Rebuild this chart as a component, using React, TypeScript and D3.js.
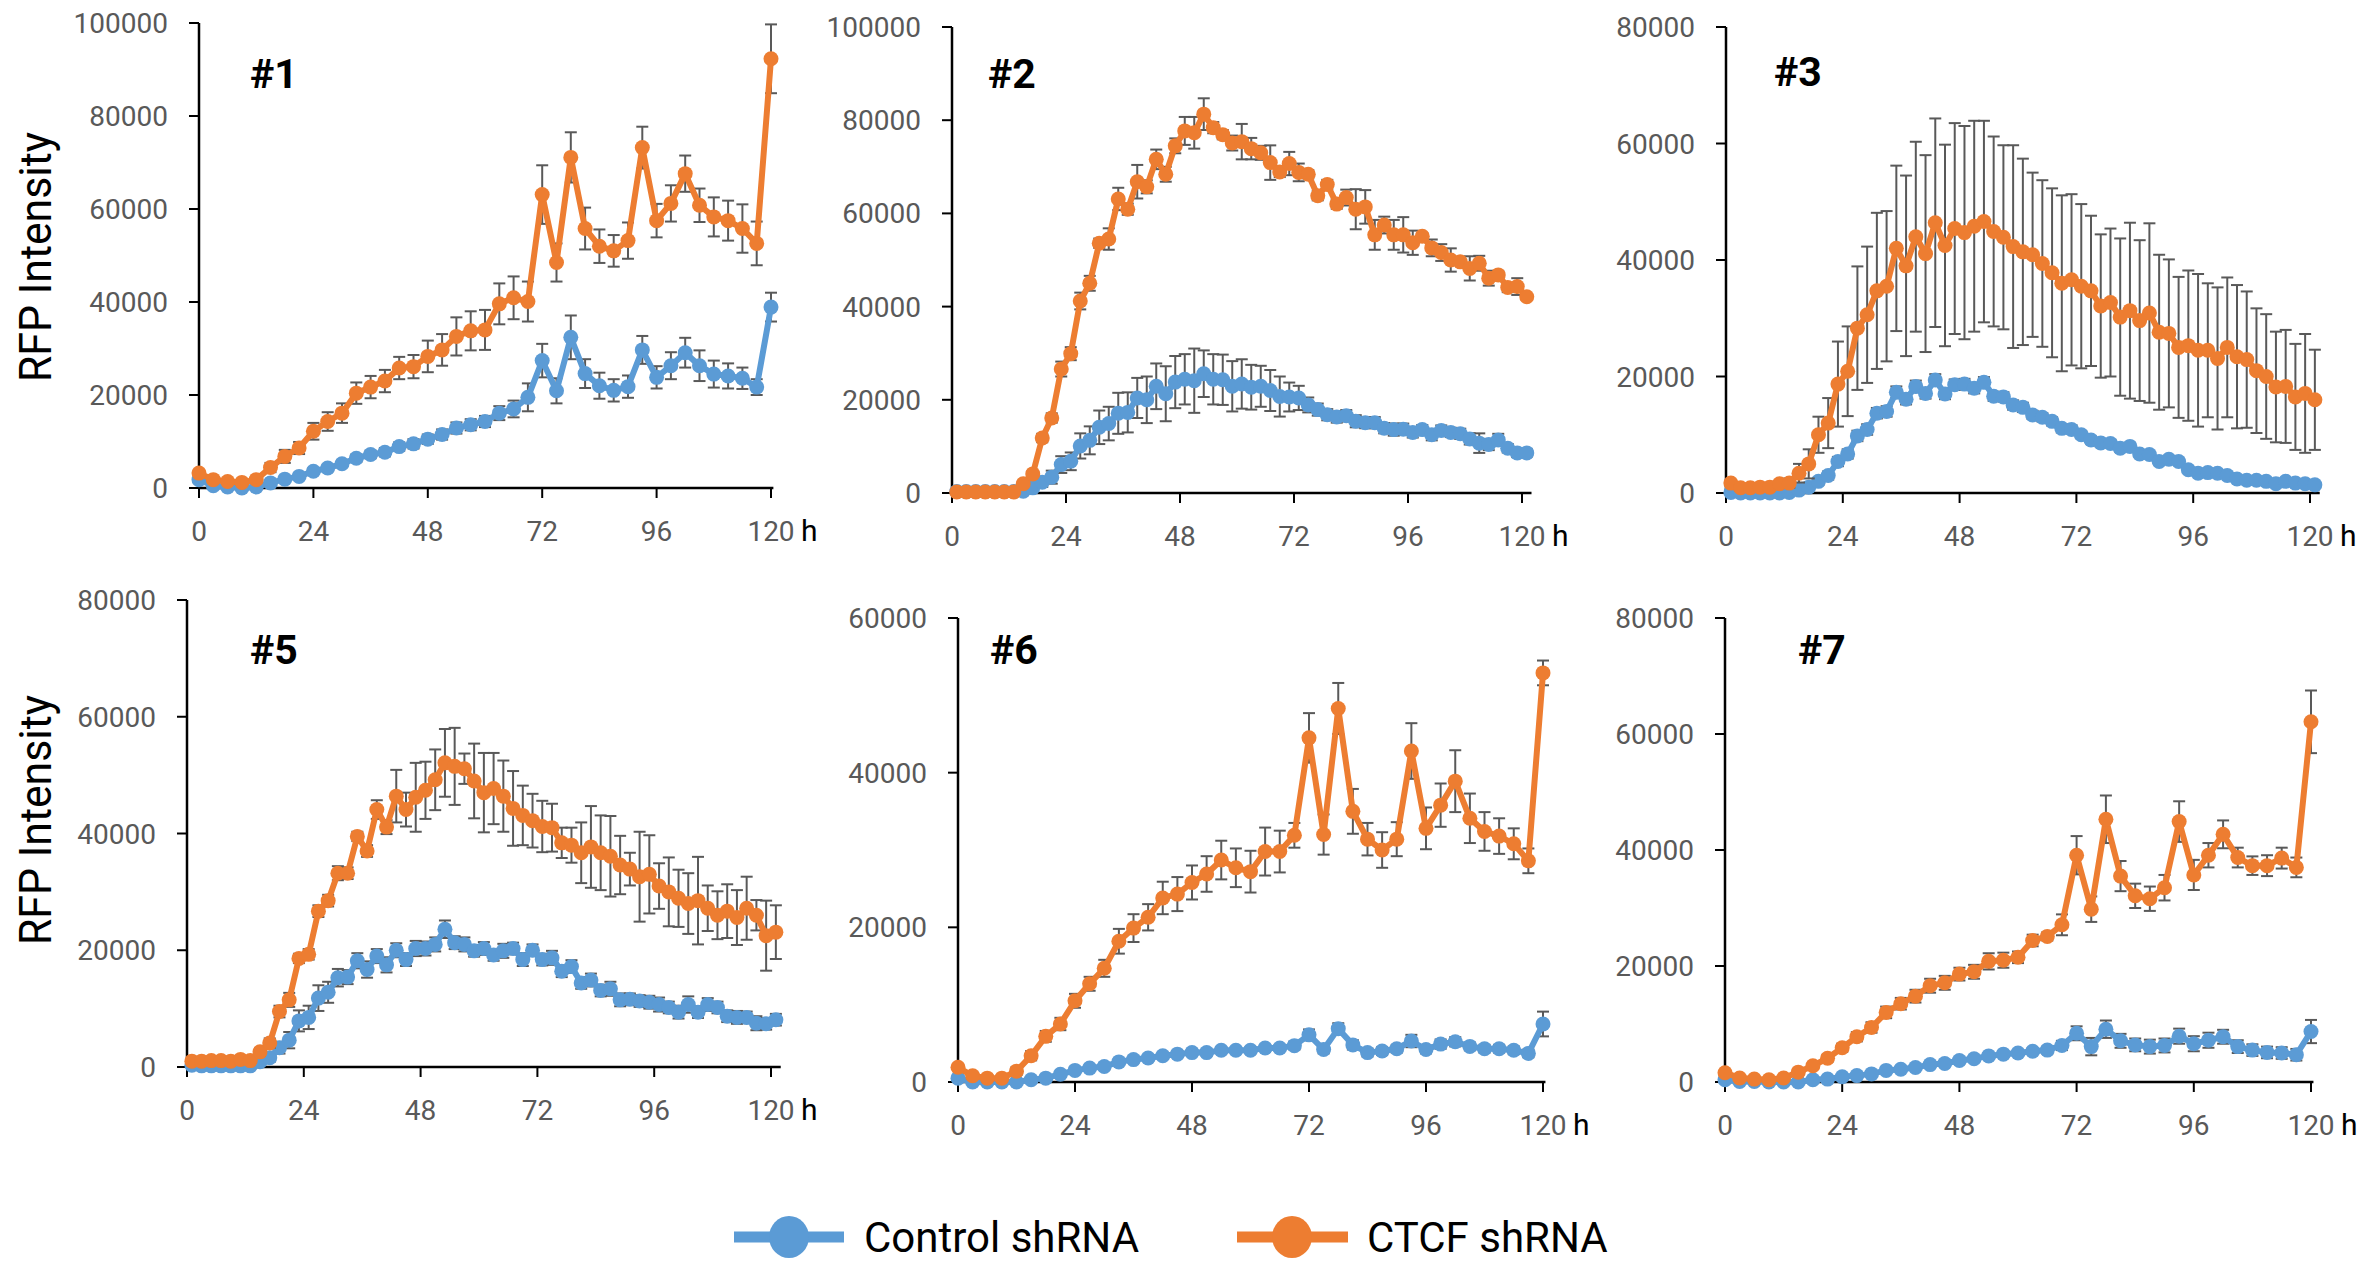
import * as d3 from 'd3';

// ── Canvas ────────────────────────────────────────────────────────────────────
const W = 2363;
const H = 1261;

// ── Colors / fonts ────────────────────────────────────────────────────────────
const BLUE   = '#5B9BD5';
const ORANGE = '#ED7D31';
const ERR    = '#595959';
const GREY   = '#595959';
const FONT   = 'Roboto, "Liberation Sans", sans-serif';

// ── Data ──────────────────────────────────────────────────────────────────────
const HOURS_3 = [0, 3, 6, 9, 12, 15, 18, 21, 24, 27, 30, 33, 36, 39, 42, 45, 48, 51, 54, 57, 60,
  63, 66, 69, 72, 75, 78, 81, 84, 87, 90, 93, 96, 99, 102, 105, 108, 111, 114, 117, 120];
const HOURS_2 = [1, 3, 5, 7, 9, 11, 13, 15, 17, 19, 21, 23, 25, 27, 29, 31, 33, 35, 37, 39, 41,
  43, 45, 47, 49, 51, 53, 55, 57, 59, 61, 63, 65, 67, 69, 71, 73, 75, 77, 79, 81, 83, 85, 87, 89,
  91, 93, 95, 97, 99, 101, 103, 105, 107, 109, 111, 113, 115, 117, 119, 121];
const X_TICKS = [0, 24, 48, 72, 96, 120];
const SERIES_NAMES = ['Control shRNA', 'CTCF shRNA'];
const PANEL_NAMES = ['#1', '#2', '#3', '#5', '#6', '#7'];
const Y_MAX = [100000, 100000, 80000, 80000, 60000, 80000];

// #1
const CTL_1 = [1800, 500, 200, 0, 200, 1100, 1900, 2500, 3600, 4300, 5200, 6400, 7200, 7700, 8900,
  9500, 10500, 11500, 12900, 13600, 14300, 16100, 17000, 19500, 27400, 20900, 32400, 24600, 22000,
  21000, 21800, 29700, 23800, 26300, 29100, 26300, 24500, 24100, 23600, 21700, 38900];
const CTL_1_SD = [300, 300, 300, 300, 300, 400, 500, 500, 600, 700, 700, 800, 800, 900, 900, 1000,
  1000, 1100, 1200, 1200, 1200, 1500, 1800, 3000, 3600, 2700, 4700, 3100, 2800, 2400, 2400, 3000,
  2400, 2900, 3200, 3300, 2900, 2700, 2300, 1700, 3100];
const KD_1 = [3200, 1800, 1400, 1200, 1800, 4400, 6800, 8600, 12200, 14300, 16100, 20400, 21700,
  23000, 25800, 26100, 28300, 29700, 32600, 33800, 34000, 39600, 40900, 40100, 63100, 48500, 71100,
  55800, 52000, 51000, 53200, 73200, 57500, 61200, 67600, 60800, 58300, 57500, 55800, 52600, 92300];
const KD_1_SD = [500, 500, 500, 500, 600, 1000, 1400, 1300, 1800, 2000, 2100, 2300, 2400, 2400, 2400,
  2500, 3400, 3400, 4100, 4200, 4300, 4400, 4600, 4300, 6300, 4100, 5400, 4500, 3600, 3400, 3900,
  4500, 3600, 3900, 3900, 3600, 4200, 4300, 5200, 4700, 7400];

// #2
const CTL_2 = [300, 300, 300, 300, 300, 300, 300, 400, 1100, 2300, 3400, 6100, 6800, 10100, 11300,
  14100, 14900, 17100, 17300, 20400, 20000, 22900, 21300, 23800, 24400, 24100, 25600, 24400, 24300,
  22900, 23400, 22700, 22900, 22000, 20700, 20600, 20400, 18900, 17900, 16800, 16300, 16600, 15400,
  15100, 15100, 13900, 13600, 13700, 13000, 13600, 12500, 13400, 13000, 12700, 11600, 10700, 10400,
  11400, 9600, 8600, 8600];
const CTL_2_SD = [300, 300, 300, 300, 300, 300, 300, 400, 600, 1000, 1400, 1800, 1900, 2700, 3000,
  3600, 3600, 4400, 4300, 4300, 5000, 4900, 5900, 5600, 5400, 6900, 5000, 5400, 5400, 5400, 5300,
  4800, 4400, 4400, 4300, 3100, 2600, 1600, 1300, 1200, 1200, 1200, 1300, 1200, 1200, 1100, 1300,
  1200, 1100, 1000, 1200, 1100, 1000, 1100, 1200, 2100, 1200, 1300, 900, 900, 800];
const KD_2 = [200, 200, 200, 200, 200, 200, 200, 2000, 4100, 11800, 16100, 26600, 29900, 41200, 45000,
  53600, 54500, 63100, 60900, 66800, 65700, 71600, 68400, 74500, 77700, 77300, 81300, 78400, 76900,
  75100, 75400, 73900, 73000, 70900, 68900, 70700, 68800, 68400, 63800, 66200, 62000, 63400, 60900,
  61400, 55400, 57500, 55400, 55400, 53700, 55100, 52600, 51600, 50000, 49600, 48200, 49300, 46100,
  46800, 44100, 44300, 42100];
const KD_2_SD = [200, 200, 200, 200, 200, 200, 200, 400, 600, 900, 1000, 1600, 1400, 1800, 1600, 1000,
  2300, 2400, 1200, 3600, 1400, 2100, 1600, 1600, 3000, 3400, 3400, 1200, 1000, 1600, 3800, 2300,
  1500, 3700, 1100, 2500, 1900, 900, 1000, 1000, 1000, 1700, 4300, 3600, 3200, 1800, 3200, 3800,
  2600, 700, 1800, 1800, 2500, 700, 2600, 1600, 1600, 800, 1000, 1800, 600];

// #3
const CTL_3 = [100, 0, 0, 0, 0, 0, 100, 500, 1000, 2000, 3000, 5400, 6700, 9800, 10900, 13700, 14000,
  17300, 16100, 18300, 17100, 19400, 17000, 18600, 18700, 18000, 19000, 16600, 16500, 15100, 14700,
  13400, 13000, 12300, 11100, 10900, 10000, 9100, 8600, 8500, 7700, 8000, 6700, 6600, 5400, 5800,
  5400, 4000, 3400, 3500, 3400, 3000, 2400, 2200, 2200, 2000, 1600, 2000, 1700, 1600, 1400];
const CTL_3_SD = [300, 300, 300, 300, 300, 300, 300, 400, 500, 600, 700, 800, 800, 900, 900, 900, 900,
  1000, 900, 1000, 900, 1000, 900, 900, 900, 900, 900, 800, 800, 800, 800, 700, 700, 700, 700, 700,
  600, 600, 600, 600, 600, 600, 500, 500, 500, 500, 500, 400, 400, 400, 400, 400, 400, 300, 300, 300,
  300, 300, 300, 300, 300];
const KD_3 = [1700, 900, 900, 1000, 1000, 1600, 1700, 3400, 5000, 10000, 12000, 18700, 20900, 28300,
  30600, 34700, 35500, 42000, 39000, 44000, 41100, 46400, 42500, 45400, 44700, 45800, 46600, 44900,
  43900, 42300, 41400, 40900, 39400, 37800, 36000, 36600, 35500, 34700, 32100, 32700, 30200, 31300,
  29600, 30900, 27600, 27400, 25000, 25300, 24500, 24500, 23100, 25000, 23400, 22900, 21000, 20000,
  18200, 18300, 16500, 17100, 16000];
const KD_3_SD = [500, 500, 500, 500, 500, 500, 800, 1600, 2500, 3100, 4300, 7300, 7700, 10600, 11700,
  13400, 12900, 14200, 15500, 16300, 16900, 17900, 17300, 18100, 18300, 18100, 17300, 16300, 15800,
  17400, 16000, 14100, 14300, 14500, 15100, 14700, 14100, 12900, 12300, 12700, 13500, 15100, 13800,
  15400, 13300, 12700, 12100, 12900, 13100, 11500, 12200, 12000, 12300, 11700, 10700, 10700, 9500,
  9700, 9100, 10200, 8600];

// #5
const CTL_5 = [300, 200, 200, 200, 200, 200, 200, 900, 1600, 3300, 4600, 7900, 8500, 11800, 12800,
  15300, 15400, 18200, 16700, 19000, 17500, 20000, 18400, 20300, 20300, 21000, 23600, 21300, 21000,
  19900, 20300, 19200, 19900, 20300, 18400, 20000, 18400, 18700, 16400, 17200, 14400, 14900, 13100,
  13400, 11500, 11600, 11300, 11100, 10700, 10200, 9400, 10700, 9400, 10700, 10200, 8700, 8500, 8500,
  7500, 7400, 8100];
const CTL_5_SD = [300, 300, 300, 300, 300, 300, 300, 500, 700, 1000, 1400, 1800, 2000, 2200, 1800, 1500,
  1200, 1300, 1400, 1200, 1300, 1200, 1100, 1300, 1200, 1200, 1500, 1100, 1200, 1000, 1100, 1000, 1200,
  1000, 1100, 1000, 1000, 1200, 1000, 1100, 1000, 1100, 1000, 1200, 1100, 1000, 1000, 1100, 1200, 1000,
  1100, 1400, 1000, 1100, 1000, 1000, 1100, 1000, 1200, 1000, 1000];
const KD_5 = [1000, 1000, 1100, 1100, 1000, 1300, 1100, 2600, 4100, 9500, 11500, 18600, 19300, 26700,
  28500, 33200, 33200, 39500, 37000, 44100, 41100, 46400, 44100, 46200, 47400, 49200, 52100, 51500,
  51100, 49000, 47000, 47700, 46400, 44300, 43100, 42200, 41200, 41000, 38400, 38000, 36700, 37700,
  36700, 36100, 34600, 33900, 32600, 33000, 31000, 30000, 28900, 28000, 28500, 27200, 26000, 26700,
  25600, 27200, 26000, 22500, 23100];
const KD_5_SD = [400, 400, 400, 400, 400, 400, 400, 600, 800, 1000, 1200, 800, 900, 1000, 1000, 1200,
  1000, 800, 1000, 1600, 1200, 4500, 2900, 5900, 4900, 5200, 5800, 6600, 2600, 6400, 6800, 6100, 6100,
  6400, 5100, 4600, 4400, 4100, 2600, 3000, 5200, 7000, 6400, 6900, 5000, 2800, 7700, 6700, 3900, 5900,
  4900, 5200, 7500, 3900, 4100, 4600, 4700, 5400, 2600, 6000, 4600];

// #6
const CTL_6 = [500, 0, 0, 0, 0, 300, 500, 1000, 1500, 1800, 2000, 2600, 2900, 3100, 3400, 3600, 3800,
  3800, 4100, 4100, 4100, 4400, 4400, 4700, 6100, 4200, 6900, 4800, 3800, 4000, 4300, 5300, 4200, 4900,
  5200, 4600, 4300, 4300, 4100, 3700, 7500];
const CTL_6_SD = [300, 300, 300, 300, 300, 300, 300, 300, 300, 300, 400, 400, 400, 400, 400, 400, 400,
  400, 400, 400, 400, 400, 400, 500, 700, 500, 700, 600, 500, 500, 500, 800, 500, 600, 600, 500, 500,
  500, 500, 500, 1600];
const KD_6 = [1900, 800, 500, 500, 1400, 3400, 5900, 7500, 10500, 12700, 14700, 18200, 19900, 21300,
  23800, 24300, 25800, 26900, 28700, 27700, 27200, 29800, 29800, 31900, 44500, 32000, 48300, 35000,
  31400, 30000, 31400, 42800, 32800, 35800, 38900, 34100, 32400, 31800, 30800, 28600, 52900];
const KD_6_SD = [400, 400, 400, 400, 500, 600, 700, 800, 900, 900, 1100, 1600, 1800, 1700, 2100, 2200,
  2200, 2300, 2500, 2500, 2700, 3100, 2700, 1600, 3200, 2600, 3300, 2900, 2100, 2300, 2200, 3600, 2700,
  2800, 4000, 3200, 2500, 2300, 2000, 1600, 1600];

// #7
const CTL_7 = [400, 100, 100, 0, 0, 0, 400, 500, 900, 1100, 1400, 2000, 2200, 2500, 3000, 3200, 3700,
  4000, 4500, 4800, 5000, 5300, 5500, 6300, 8400, 6100, 9100, 7100, 6400, 6100, 6300, 7900, 6600, 7200,
  7800, 6100, 5500, 5100, 5000, 4700, 8700];
const CTL_7_SD = [300, 300, 300, 300, 300, 300, 300, 300, 300, 300, 400, 400, 400, 400, 400, 500, 500,
  500, 500, 500, 500, 500, 600, 800, 1200, 1500, 1500, 1200, 1100, 1200, 1200, 1300, 1300, 1300, 1200,
  1100, 1000, 1000, 1000, 1000, 2000];
const KD_7 = [1600, 700, 500, 400, 700, 1700, 2800, 4100, 5900, 7800, 9400, 12000, 13500, 14800, 16600,
  17100, 18600, 19000, 20800, 21000, 21500, 24400, 25100, 27100, 39100, 29800, 45300, 35500, 32100,
  31600, 33500, 44900, 35700, 39100, 42700, 38700, 37300, 37300, 38600, 37000, 62100];
const KD_7_SD = [300, 300, 300, 300, 300, 400, 500, 600, 700, 800, 900, 1000, 1000, 1100, 1200, 1200,
  1100, 1200, 1400, 1300, 1000, 1000, 700, 1800, 3300, 2200, 4100, 2600, 2100, 2100, 2200, 3500, 2600,
  2100, 2400, 1700, 1600, 1800, 1800, 1700, 5400];

const PANEL_HOURS = [HOURS_3, HOURS_2, HOURS_2, HOURS_2, HOURS_3, HOURS_3];
const PANEL_CTL = [CTL_1, CTL_2, CTL_3, CTL_5, CTL_6, CTL_7];
const PANEL_CTL_SD = [CTL_1_SD, CTL_2_SD, CTL_3_SD, CTL_5_SD, CTL_6_SD, CTL_7_SD];
const PANEL_KD = [KD_1, KD_2, KD_3, KD_5, KD_6, KD_7];
const PANEL_KD_SD = [KD_1_SD, KD_2_SD, KD_3_SD, KD_5_SD, KD_6_SD, KD_7_SD];

// ── Layout (pixel boxes for each panel: x at 0 h / 120 h, y at max / 0) ────────
const BOXES = [
  { x0: 199,  x1: 771,  top: 23,  bottom: 488,  lx: 250,  ly: 88,  xEnd: 120.5 },
  { x0: 952,  x1: 1522, top: 27,  bottom: 493,  lx: 988,  ly: 88,  xEnd: 122 },
  { x0: 1726, x1: 2310, top: 27,  bottom: 493,  lx: 1774, ly: 86,  xEnd: 122 },
  { x0: 187,  x1: 771,  top: 600, bottom: 1067, lx: 250,  ly: 664, xEnd: 122 },
  { x0: 958,  x1: 1543, top: 618, bottom: 1082, lx: 990,  ly: 664, xEnd: 120.5 },
  { x0: 1725, x1: 2311, top: 618, bottom: 1082, lx: 1798, ly: 664, xEnd: 120.5 },
];

function Panel({ i }: { i: number }) {
  const b = BOXES[i];
  const hours = PANEL_HOURS[i];
  const x = d3.scaleLinear().domain([0, 120]).range([b.x0, b.x1]);
  const y = d3.scaleLinear().domain([0, Y_MAX[i]]).range([b.bottom, b.top]);
  const yTicks = d3.range(0, Y_MAX[i] + 1, 20000);
  const line = d3.line<number>().x((_, k) => x(hours[k])).y(v => y(v));

  const series = [
    { vals: PANEL_CTL[i], sd: PANEL_CTL_SD[i], color: BLUE },
    { vals: PANEL_KD[i],  sd: PANEL_KD_SD[i],  color: ORANGE },
  ];

  return (
    <g>
      {/* axes */}
      <line x1={b.x0} x2={b.x0} y1={b.top} y2={b.bottom} stroke="#000" strokeWidth={2.5} />
      <line x1={b.x0} x2={x(b.xEnd)} y1={b.bottom} y2={b.bottom} stroke="#000" strokeWidth={2.5} />
      {yTicks.map(v => (
        <g key={v}>
          <line x1={b.x0 - 10} x2={b.x0} y1={y(v)} y2={y(v)} stroke="#000" strokeWidth={2} />
          <text x={b.x0 - 31} y={y(v)} dy="0.36em" textAnchor="end"
            fontFamily={FONT} fontSize={28} fill={GREY}>{v}</text>
        </g>
      ))}
      {X_TICKS.map(t => (
        <g key={t}>
          <line x1={x(t)} x2={x(t)} y1={b.bottom} y2={b.bottom + 10} stroke="#000" strokeWidth={2} />
          <text x={x(t)} y={b.bottom + 53} textAnchor="middle"
            fontFamily={FONT} fontSize={28} fill={GREY}>{t}</text>
        </g>
      ))}
      <text x={x(120) + 30} y={b.bottom + 53} fontFamily={FONT} fontSize={30} fill="#000">h</text>

      {/* series: error bars, line, markers */}
      {series.map((s, si) => (
        <g key={si}>
          {s.vals.map((v, k) => {
            const cx = x(hours[k]);
            const lo = y(Math.max(0, v - s.sd[k]));
            const hi = y(v + s.sd[k]);
            return (
              <g key={k} stroke={ERR} strokeWidth={2}>
                <line x1={cx} x2={cx} y1={lo} y2={hi} />
                <line x1={cx - 6} x2={cx + 6} y1={hi} y2={hi} />
                <line x1={cx - 6} x2={cx + 6} y1={lo} y2={lo} />
              </g>
            );
          })}
          <path d={line(s.vals) ?? ''} fill="none" stroke={s.color} strokeWidth={6}
            strokeLinejoin="round" />
          {s.vals.map((v, k) => (
            <circle key={k} cx={x(hours[k])} cy={y(v)} r={7.5} fill={s.color} />
          ))}
        </g>
      ))}

      <text x={b.lx} y={b.ly} fontFamily={FONT} fontSize={41} fontWeight={700} fill="#000">
        {PANEL_NAMES[i]}
      </text>
    </g>
  );
}

export default function App() {
  const legend = [
    { color: BLUE,   x0: 734,  x1: 844,  cx: 789,  tx: 864 },
    { color: ORANGE, x0: 1237, x1: 1348, cx: 1292, tx: 1367 },
  ];
  return (
    <svg width={W} height={H} viewBox={`0 0 ${W} ${H}`}
      style={{ position: 'absolute', left: 0, top: 0, background: '#fff' }}>
      <rect width={W} height={H} fill="#fff" />

      {[257, 820].map(cy => (
        <text key={cy} transform={`translate(51,${cy}) rotate(-90)`} textAnchor="middle"
          fontFamily={FONT} fontSize={44} fill="#000" textLength={250} lengthAdjust="spacingAndGlyphs">
          RFP Intensity
        </text>
      ))}

      {PANEL_NAMES.map((_, i) => <Panel key={i} i={i} />)}

      {/* Legend */}
      {legend.map((l, i) => (
        <g key={i}>
          <line x1={l.x0} x2={l.x1} y1={1237} y2={1237} stroke={l.color} strokeWidth={11} />
          <ellipse cx={l.cx} cy={1237} rx={20} ry={21} fill={l.color} />
          <text x={l.tx} y={1252} fontFamily={FONT} fontSize={42} fill="#000">{SERIES_NAMES[i]}</text>
        </g>
      ))}
    </svg>
  );
}
